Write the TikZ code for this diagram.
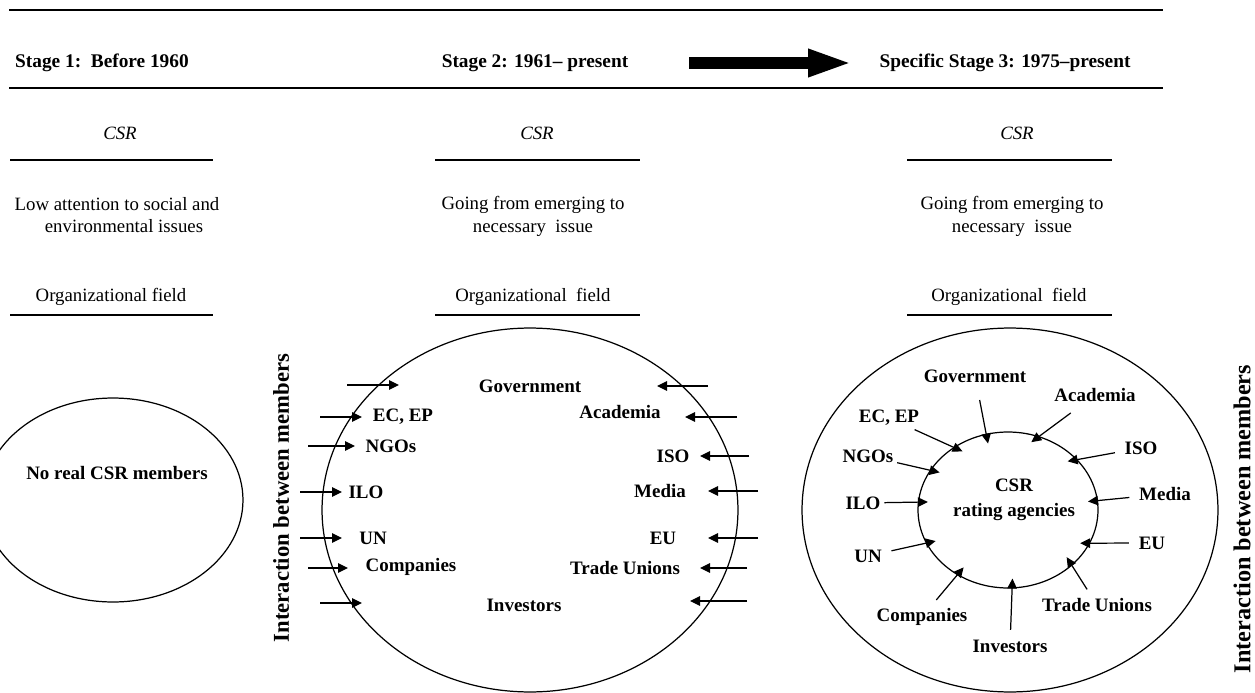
\documentclass[tikz,border=0pt]{standalone}
\usepackage{fontspec}
\setmainfont{Liberation Serif}
\usetikzlibrary{arrows.meta,shapes.geometric}

\begin{document}
\begin{tikzpicture}[x=0.02cm,y=-0.02cm,
  head/.style={font=\fontsize{11}{13}\selectfont\bfseries},
  lbl/.style={font=\fontsize{10.8}{13}\selectfont\bfseries, inner sep=2pt},
  side/.style={font=\fontsize{#1}{15}\selectfont\bfseries, rotate=90, inner sep=1pt},
  note/.style={font=\fontsize{10.7}{13}\selectfont, align=center},
  csr/.style={font=\fontsize{10.7}{13}\selectfont\itshape},
  rule/.style={line width=1.1pt},
  ring/.style={draw, ellipse, line width=0.7pt, inner sep=0pt},
  arr/.style={line width=0.7pt, -{Triangle[length=0.2cm,width=0.19cm]}},
  into/.style={arr, shorten >=-0.2cm, shorten <=#1},
  into/.default=0.12cm]
\useasboundingbox (0,0) rectangle (1255,693);
\clip (0,0) rectangle (1255,693);

\draw[rule] (9,10) -- (1163,10);
\draw[rule] (9,88) -- (1163,88);
\node[head, anchor=west] (stage1) at (9,63) {Stage 1:\ \ Before 1960};
\node[head] (stage2) at (535,63) {Stage 2: 1961– present};
\node[head] (stage3) at (1005,63) {Specific Stage 3: 1975–present};
\coordinate (go) at (689,63);
\coordinate (stop) at (853,63);
\draw[line width=0.24cm, -{Triangle[length=0.9cm,width=0.5cm]}] (go) -- (stop);

\node[csr] (csr1) at (120,133) {CSR};
\node[csr] (csr2) at (537,133) {CSR};
\node[csr] (csr3) at (1017,133) {CSR};
\draw[rule] (10,160) -- (213,160);
\draw[rule] (435,160) -- (640,160);
\draw[rule] (907,160) -- (1112,160);
\node[note] (note1) at (117,215) {Low attention to social and\\\hspace*{0.28cm}environmental issues};
\node[note] (note2) at (533,216) {Going from emerging to\\necessary\ \ issue};
\node[note] (note3) at (1012,216) {Going from emerging to\\necessary\ \ issue};
\node[note] (field1) at (111,297) {Organizational field};
\node[note] (field2) at (533,297) {Organizational\ \ field};
\node[note] (field3) at (1009,297) {Organizational\ \ field};
\draw[rule] (10,315) -- (213,315);
\draw[rule] (435,315) -- (640,315);
\draw[rule] (907,315) -- (1112,315);

\node[ring, minimum width=5.2cm, minimum height=4.08cm] (org1) at (113,500) {};
\node[lbl] (none1) at (117,473) {No real CSR members};

\node[ring, minimum width=8.32cm, minimum height=7.28cm] (org2) at (530,510) {};
\node[side=12.9] (link2) at (281,498) {Interaction between members};
\node[lbl] (gov2) at (530,386) {Government};
\node[lbl] (ecep2) at (403,417) {EC, EP};
\node[lbl] (ngos2) at (391,446) {NGOs};
\node[lbl] (ilo2) at (366,492) {ILO};
\node[lbl] (un2) at (373,538) {UN};
\node[lbl] (comp2) at (411,567) {Companies};
\node[lbl] (inv2) at (524,605) {Investors};
\node[lbl] (acad2) at (620,412) {Academia};
\node[lbl] (iso2) at (673,456) {ISO};
\node[lbl] (media2) at (660,491) {Media};
\node[lbl] (eu2) at (663,538) {EU};
\node[lbl] (tu2) at (625,568) {Trade Unions};
\coordinate (l1a) at (347,385); \coordinate (l1b) at (399,385);
\coordinate (l2a) at (320,417); \coordinate (l2b) at (362,417);
\coordinate (l3a) at (308,446); \coordinate (l3b) at (355,446);
\coordinate (l4a) at (300,492); \coordinate (l4b) at (342,492);
\coordinate (l5a) at (300,538); \coordinate (l5b) at (342,538);
\coordinate (l6a) at (308,568); \coordinate (l6b) at (348,568);
\coordinate (l7a) at (320,603); \coordinate (l7b) at (362,603);
\coordinate (r1a) at (708,386); \coordinate (r1b) at (657,386);
\coordinate (r2a) at (737,417); \coordinate (r2b) at (685,417);
\coordinate (r3a) at (749,456); \coordinate (r3b) at (700,456);
\coordinate (r4a) at (758,491); \coordinate (r4b) at (708,491);
\coordinate (r5a) at (758,538); \coordinate (r5b) at (708,538);
\coordinate (r6a) at (747,568); \coordinate (r6b) at (700,568);
\coordinate (r7a) at (747,601); \coordinate (r7b) at (690,601);
\draw[arr] (l1a) -- (l1b);
\draw[arr] (l2a) -- (l2b);
\draw[arr] (l3a) -- (l3b);
\draw[arr] (l4a) -- (l4b);
\draw[arr] (l5a) -- (l5b);
\draw[arr] (l6a) -- (l6b);
\draw[arr] (l7a) -- (l7b);
\draw[arr] (r1a) -- (r1b);
\draw[arr] (r2a) -- (r2b);
\draw[arr] (r3a) -- (r3b);
\draw[arr] (r4a) -- (r4b);
\draw[arr] (r5a) -- (r5b);
\draw[arr] (r6a) -- (r6b);
\draw[arr] (r7a) -- (r7b);

\node[ring, minimum width=8.32cm, minimum height=7.28cm] (org3) at (1010,510) {};
\node[ring, minimum width=3.6cm, minimum height=3.12cm] (core) at (1008,510) {};
\node[lbl, align=center, font=\fontsize{10.8}{14.2}\selectfont\bfseries] (agency) at (1014,500) {CSR\\rating agencies};
\node[side=13.8] (link3) at (1242,519) {Interaction between members};
\node[lbl] (gov3) at (975,376) {Government};
\node[lbl] (acad3) at (1095,395) {Academia};
\node[lbl] (ecep3) at (889,418) {EC, EP};
\node[lbl] (ngos3) at (868,456) {NGOs};
\node[lbl] (ilo3) at (863,503) {ILO};
\node[lbl] (un3) at (868,556) {UN};
\node[lbl] (comp3) at (922,617) {Companies};
\node[lbl] (inv3) at (1010,646) {Investors};
\node[lbl] (tu3) at (1097,605) {Trade Unions};
\node[lbl] (eu3) at (1152,543) {EU};
\node[lbl] (media3) at (1165,494) {Media};
\node[lbl] (iso3) at (1141,448) {ISO};
\draw[into=0.28cm] (gov3) -- (core.106);
\draw[into=0.25cm] (acad3) -- (core.67);
\draw[into=0cm] (ecep3) -- (core.131);
\draw[into=0cm] (ngos3) -- (core.153);
\draw[into=0cm] (ilo3) -- (core.175);
\draw[into] (un3) -- (core.202);
\draw[into] (comp3) -- (core.232);
\draw[into] (inv3) -- (core.273);
\draw[into] (tu3) -- (core.319);
\draw[into] (eu3) -- (core.338);
\draw[into] (media3) -- (core.6);
\draw[into] (iso3) -- (core.36);
\end{tikzpicture}
\end{document}
